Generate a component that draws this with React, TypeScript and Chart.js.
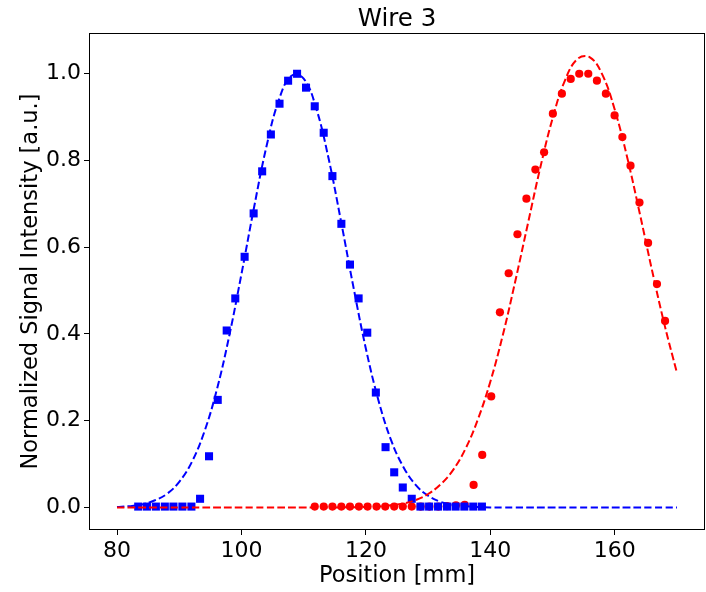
import React, { useEffect, useRef } from "react";
import { Chart, registerables } from "chart.js";

Chart.register(...registerables);

const titleText = "Wire 3";
const xLabel = "Position [mm]";
const yLabel = "Normalized Signal Intensity [a.u.]";

const xTickValues = [80, 100, 120, 140, 160];
const yTickValues = [0, 0.2, 0.4, 0.6, 0.8, 1.0];

const blueX = [
  83.41, 84.81, 86.25, 87.69, 89.07, 90.51, 91.96, 93.35, 94.79, 96.19,
  97.63, 99.01, 100.51, 101.96, 103.33, 104.73, 106.12, 107.5, 108.94, 110.38,
  111.78, 113.22, 114.62, 116.06, 117.44, 118.83, 120.22, 121.6, 123.16, 124.55,
  125.93, 127.37, 128.77, 130.16, 131.6, 133.04, 134.42, 135.82, 137.26, 138.65,
];
const blueY = [
  0.002, 0.002, 0.002, 0.002, 0.002, 0.002, 0.002, 0.02, 0.118, 0.248,
  0.408, 0.482, 0.578, 0.678, 0.775, 0.86, 0.931, 0.984, 1.0, 0.968,
  0.925, 0.864, 0.764, 0.654, 0.56, 0.482, 0.403, 0.265, 0.139, 0.081,
  0.046, 0.02, 0.002, 0.002, 0.002, 0.002, 0.002, 0.002, 0.002, 0.002,
];

const redX = [
  111.78, 113.22, 114.62, 116.06, 117.44, 118.88, 120.27, 121.71, 123.11, 124.55,
  125.93, 127.37, 128.8, 130.21, 131.63, 133.04, 134.47, 135.88, 137.31, 138.7,
  140.14, 141.54, 142.95, 144.36, 145.8, 147.24, 148.64, 150.05, 151.5, 152.92,
  154.29, 155.74, 157.13, 158.57, 159.97, 161.22, 162.53, 163.97, 165.35, 166.78,
  168.08,
];
const redY = [
  0.002, 0.002, 0.002, 0.002, 0.002, 0.002, 0.002, 0.002, 0.002, 0.002,
  0.002, 0.002, 0.002, 0.002, 0.002, 0.003, 0.005, 0.006, 0.052, 0.121,
  0.256, 0.45, 0.54, 0.63, 0.712, 0.779, 0.819, 0.908, 0.954, 0.988,
  1.0, 1.0, 0.984, 0.954, 0.904, 0.854, 0.788, 0.703, 0.61, 0.515,
  0.43,
];

const fitX = [
  80, 82, 84, 86, 88, 90, 92, 94, 96, 98,
  100, 102, 104, 106, 108, 110, 112, 114, 116, 118,
  120, 122, 124, 126, 128, 130, 132, 134, 136, 138,
  140, 142, 144, 146, 148, 150, 152, 154, 156, 158,
  160, 162, 164, 166, 168, 170,
];
const blueFitY = [
  0.001, 0.003, 0.007, 0.016, 0.031, 0.059, 0.104, 0.173, 0.269, 0.393,
  0.538, 0.69, 0.831, 0.939, 0.995, 0.989, 0.921, 0.805, 0.66, 0.508,
  0.366, 0.248, 0.157, 0.094, 0.052, 0.027, 0.013, 0.006, 0.003, 0.001,
  0, 0, 0, 0, 0, 0, 0, 0, 0, 0,
  0, 0, 0, 0, 0, 0,
];
const redFitY = [
  0, 0, 0, 0, 0, 0, 0, 0, 0, 0,
  0, 0, 0, 0, 0, 0, 0, 0, 0.0002, 0.0005,
  0.001, 0.002, 0.005, 0.009, 0.017, 0.031, 0.053, 0.086, 0.135, 0.203,
  0.29, 0.397, 0.521, 0.652, 0.782, 0.897, 0.985, 1.034, 1.038, 0.998,
  0.917, 0.807, 0.679, 0.546, 0.421, 0.31,
];

const FONT = '"DejaVu Sans", "Liberation Sans", sans-serif';

export default function App() {
  const ref = useRef<HTMLCanvasElement>(null);

  useEffect(() => {
    document.body.style.margin = "0";
    const canvas = ref.current;
    if (!canvas) return;
    const pts = (xs: number[], ys: number[]) => xs.map((x, i) => ({ x, y: ys[i] }));

    const framePlugin = {
      id: "frameAndTitle",
      afterDraw(chart: any) {
        const { ctx, chartArea: a } = chart;
        ctx.save();
        ctx.strokeStyle = "#000";
        ctx.lineWidth = 1;
        ctx.strokeRect(a.left + 0.5, a.top + 0.5, a.right - a.left - 1, a.bottom - a.top - 1);
        ctx.font = `24.5px ${FONT}`;
        ctx.fillStyle = "#000";
        ctx.textAlign = "center";
        ctx.textBaseline = "alphabetic";
        ctx.fillText(titleText, (a.left + a.right) / 2, 26);
        ctx.restore();
      },
    };

    const chart = new Chart(canvas, {
      type: "scatter",
      data: {
        datasets: [
          {
            label: "red fit",
            data: pts(fitX, redFitY),
            showLine: true,
            borderColor: "#ff0000",
            borderWidth: 2,
            borderDash: [7.5, 3.2],
            pointRadius: 0,
            tension: 0.4,
            order: 1,
          },
          {
            label: "blue fit",
            data: pts(fitX, blueFitY),
            showLine: true,
            borderColor: "#0000ff",
            borderWidth: 2,
            borderDash: [7.5, 3.2],
            pointRadius: 0,
            tension: 0.4,
            order: 2,
          },
          {
            label: "blue data",
            data: pts(blueX, blueY),
            pointStyle: "rect",
            pointRadius: 5.7,
            pointBorderWidth: 0,
            backgroundColor: "#0000ff",
            borderColor: "#0000ff",
            order: 3,
          },
          {
            label: "red data",
            data: pts(redX, redY),
            pointStyle: "circle",
            pointRadius: 4.1,
            pointBorderWidth: 0,
            backgroundColor: "#ff0000",
            borderColor: "#ff0000",
            order: 4,
          },
        ],
      },
      options: {
        animation: false,
        responsive: false,
        events: [],
        layout: { autoPadding: false, padding: { top: 33, right: 1, left: 0, bottom: 0 } },
        plugins: {
          legend: { display: false },
          tooltip: { enabled: false },
          title: { display: false },
        },
        scales: {
          x: {
            type: "linear",
            min: 75.5,
            max: 174.5,
            afterBuildTicks: (s: any) => {
              s.ticks = xTickValues.map((v) => ({ value: v }));
            },
            afterFit: (s: any) => {
              s.height = 62;
            },
            grid: {
              display: true,
              drawOnChartArea: false,
              drawTicks: true,
              tickLength: 5,
              color: "#000",
              lineWidth: 1,
            },
            border: { display: false },
            ticks: {
              color: "#000",
              font: { family: FONT, size: 22 },
              padding: 3,
              maxRotation: 0,
              autoSkip: false,
              callback: (v: any) => String(v),
            },
            title: {
              display: true,
              text: xLabel,
              color: "#000",
              font: { family: FONT, size: 22.5 },
              padding: { top: 0, bottom: 2 },
            },
          },
          y: {
            type: "linear",
            min: -0.052,
            max: 1.094,
            afterBuildTicks: (s: any) => {
              s.ticks = yTickValues.map((v) => ({ value: v }));
            },
            afterFit: (s: any) => {
              s.width = 89;
            },
            grid: {
              display: true,
              drawOnChartArea: false,
              drawTicks: true,
              tickLength: 5,
              color: "#000",
              lineWidth: 1,
            },
            border: { display: false },
            ticks: {
              color: "#000",
              font: { family: FONT, size: 22 },
              padding: 3,
              autoSkip: false,
              callback: (v: any) => Number(v).toFixed(1),
            },
            title: {
              display: true,
              text: yLabel,
              color: "#000",
              font: { family: FONT, size: 22.5 },
              padding: { top: 18, bottom: 0 },
            },
          },
        },
      },
      plugins: [framePlugin],
    });

    return () => chart.destroy();
  }, []);

  return (
    <div style={{ position: "absolute", left: 0, top: 0, width: 706, height: 592 }}>
      <canvas ref={ref} width={706} height={592} style={{ width: 706, height: 592, display: "block" }} />
    </div>
  );
}
